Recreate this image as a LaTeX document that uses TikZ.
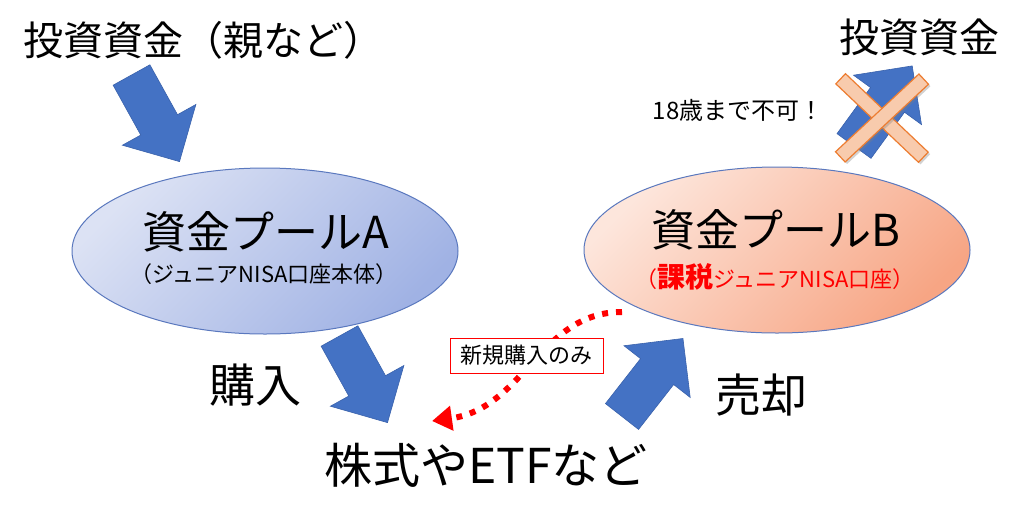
\documentclass[tikz,border=0pt]{standalone}
\usepackage{fontspec}
\setmainfont{Noto Sans CJK JP}
\usetikzlibrary{shapes.geometric,shadows,arrows.meta}
\definecolor{arrowblue}{HTML}{4472C4}
\definecolor{arrowedge}{HTML}{3A62AC}
\definecolor{poolAlight}{HTML}{DCE2F4}
\definecolor{poolAdark}{HTML}{A0B2E4}
\definecolor{poolBlight}{HTML}{FDE6DC}
\definecolor{poolBdark}{HTML}{F7A584}
\definecolor{pooledge}{HTML}{5A78BE}
\definecolor{xfill}{HTML}{F8CBAD}
\definecolor{xedge}{HTML}{ED7D31}
\definecolor{notered}{HTML}{FF0000}
\newcommand{\fs}[1]{\fontsize{#1}{#1}\selectfont}
\newcommand{\blockarrow}[2]{\path[barrow,shift={#1},rotate=#2] (0,-21) -- (57,-21) -- (57,-42) -- (99,0) -- (57,42) -- (57,21) -- (0,21) -- cycle;}
\begin{document}
\begin{tikzpicture}[x=1pt,y=-1pt,
  barrow/.style={fill=arrowblue, draw=arrowedge, line width=0.6pt, line join=miter},
  pool/.style={ellipse, draw=pooledge, line width=1pt, minimum width=386pt, minimum height=166pt, inner sep=0pt},
  txt/.style={inner sep=0pt, text=black},
  xbar/.style={rectangle, fill=xfill, draw=xedge, line width=1.2pt, minimum width=114pt, minimum height=14pt, inner sep=0pt, drop shadow={shadow xshift=2pt, shadow yshift=-2pt, opacity=0.35}},
  note/.style={rectangle, draw=notered, fill=white, line width=0.8pt, minimum width=153pt, minimum height=35pt, inner sep=0pt, font=\fs{22}},
  reddot/.style={draw=notered, line width=6pt, dash pattern=on 6pt off 8pt, -{Triangle[length=20pt,width=24pt]}}
]
\useasboundingbox (0,0) rectangle (1024,528);
\fill[white] (0,0) rectangle (1024,528);

% pools
\node[pool, top color=poolAlight, bottom color=poolAdark, shading angle=45] (poolA) at (265,251) {};
\node[pool, top color=poolBlight, bottom color=poolBdark, shading angle=45] (poolB) at (777,250) {};

% block arrows
\blockarrow{(131.5,75)}{-61}
\blockarrow{(339.5,336)}{-61}
\blockarrow{(622,416.5)}{52}
\blockarrow{(854,146)}{54}

% cross
\node[xbar, rotate=-43.5] (xa) at (882,118) {};
\node[xbar, rotate=43] (xb) at (882,118) {};

% texts
\node[txt, anchor=west, font=\fs{40}] (src) at (23,40) {投資資金（親など）};
\node[txt, font=\fs{40}] (dst) at (919.5,37) {投資資金};
\node[txt, font=\fs{24}] (ban) at (738,110) {18歳まで不可！};
\node[txt, font=\fs{44}] (labA) at (266,232) {資金プールA};
\node[txt, font=\fs{22}] (subA) at (264,274) {（ジュニアNISA口座本体）};
\node[txt, font=\fs{44}] (labB) at (776,230) {資金プールB};
\node[txt, font=\fs{22}, text=notered] (subB) at (775,277) {（{\fs{28}\bfseries 課税}ジュニアNISA口座）};
\node[txt, font=\fs{46}] (buy) at (255,385) {購入};
\node[txt, font=\fs{46}] (sell) at (761,395) {売却};
\node[txt, font=\fs{48}] (stock) at (486,465) {株式やETFなど};

% dotted arrow
\coordinate (dstart) at (622,312);
\coordinate (dend) at (432,421);
\draw[reddot] (dstart) .. controls (540,312) and (525,408) .. (dend);
\node[note] (newonly) at (526.5,355.5) {新規購入のみ};
\end{tikzpicture}
\end{document}
